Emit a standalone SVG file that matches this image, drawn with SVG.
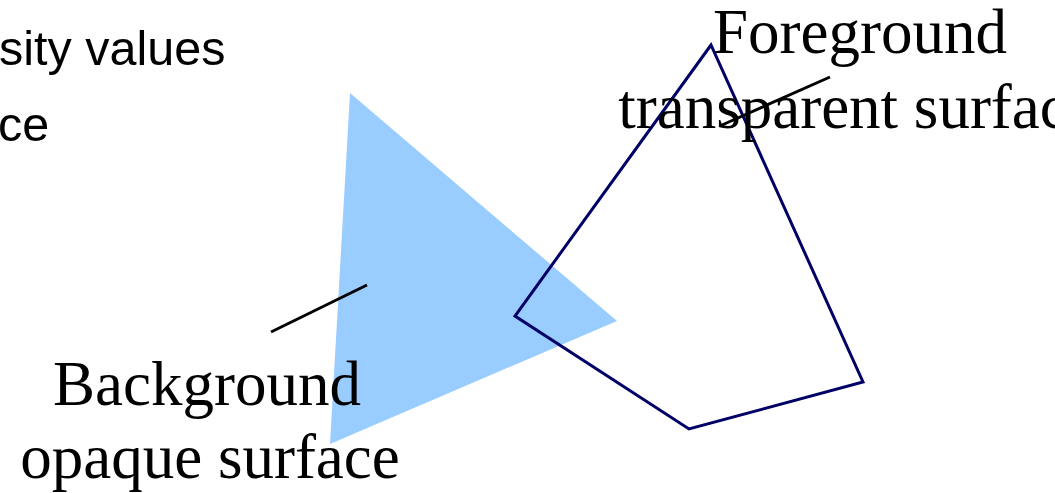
<svg xmlns="http://www.w3.org/2000/svg" width="1055" height="493" viewBox="0 0 1055 493">
<style>
.sans{font-family:"Liberation Sans",Arial,sans-serif;font-size:48.5px;fill:#000}
.serif{font-family:"Liberation Serif","Times New Roman",serif;font-size:63px;fill:#000;text-anchor:middle}
.lead{stroke:#000;stroke-width:3;fill:none}
</style>
<rect width="1055" height="493" fill="#fff"/>
<g id="title">
<text class="sans" x="-1" y="65">sity values</text>
<text class="sans" x="-2" y="141">ce</text>
</g>
<g id="background-surface">
<polygon points="350,93 617,321 330,444" fill="#99CCFF"/>
</g>
<g id="foreground-surface">
<polygon points="711,45 515,316 689,429 863,382" fill="none" stroke="#000066" stroke-width="3" stroke-linejoin="miter"/>
</g>
<g id="background-label">
<text class="serif" x="207" y="405">Background</text>
<text class="serif" x="210" y="478">opaque surface</text>
</g>
<g id="foreground-label">
<text class="serif" x="860" y="53">Foreground</text>
<text class="serif" x="857" y="128">transparent surface</text>
</g>
<g id="connectors">
<line class="lead" x1="271" y1="332" x2="367" y2="285"/>
<line class="lead" x1="722" y1="125" x2="830" y2="77"/>
</g>
</svg>
